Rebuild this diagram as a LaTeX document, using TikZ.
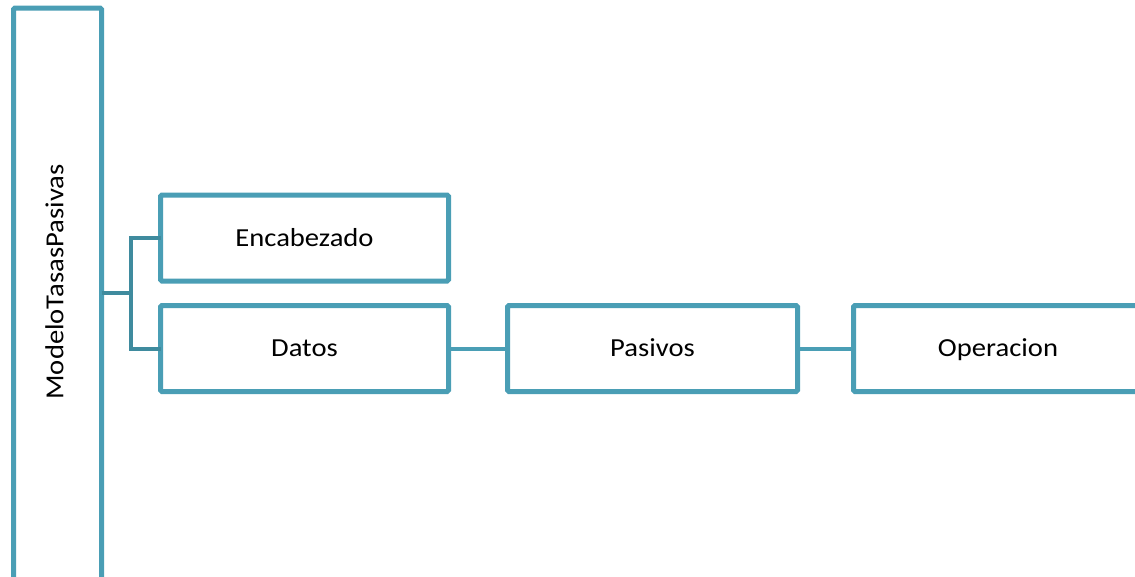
\documentclass[tikz,border=0pt]{standalone}
\usepackage{fontspec}
\setmainfont{Carlito}[FakeStretch=1.1]
\definecolor{boxline}{HTML}{4A9EB5}
\definecolor{linkline}{HTML}{3F8B9E}
\begin{document}
\begin{tikzpicture}[x=1pt,y=-1pt,
  lbl/.style={font=\fontsize{26}{30}\selectfont,text height=16.7pt,text depth=0pt,inner sep=0pt,outer sep=0pt},
  box/.style={draw=boxline,line width=5pt,rounded corners=1.5pt,fill=white,inner sep=0pt,outer sep=0pt,
    minimum width=288pt,minimum height=86pt,lbl},
  link/.style={draw=linkline,line width=4pt},
  link2/.style={draw=boxline,line width=4pt}]
\useasboundingbox (0,0) rectangle (1135,576);
\node[box,minimum width=88pt,minimum height=640pt,anchor=north west] (root) at (13.5,8) {};
\node[lbl,rotate=90] (rootlabel) at (55,282) {ModeloTasasPasivas};
\node[box,anchor=north west] (enc) at (160.5,195) {Encabezado};
\node[box,anchor=north west] (dat) at (160.5,305.5) {Datos};
\node[box,anchor=north west,minimum width=290pt] (pas) at (507.5,305.5) {Pasivos};
\node[box,anchor=north west,minimum width=330pt] (ope) at (853.5,305.5) {};
\node[lbl] (opelabel) at (998,348) {Operacion};
\coordinate (j) at (131,293);
\draw[link] (root.east |- j) -- (j);
\draw[link] (enc.west) -| (j) |- (dat.west);
\draw[link2] (dat.east) -- (pas.west);
\draw[link2] (pas.east) -- (ope.west);
\end{tikzpicture}
\end{document}
